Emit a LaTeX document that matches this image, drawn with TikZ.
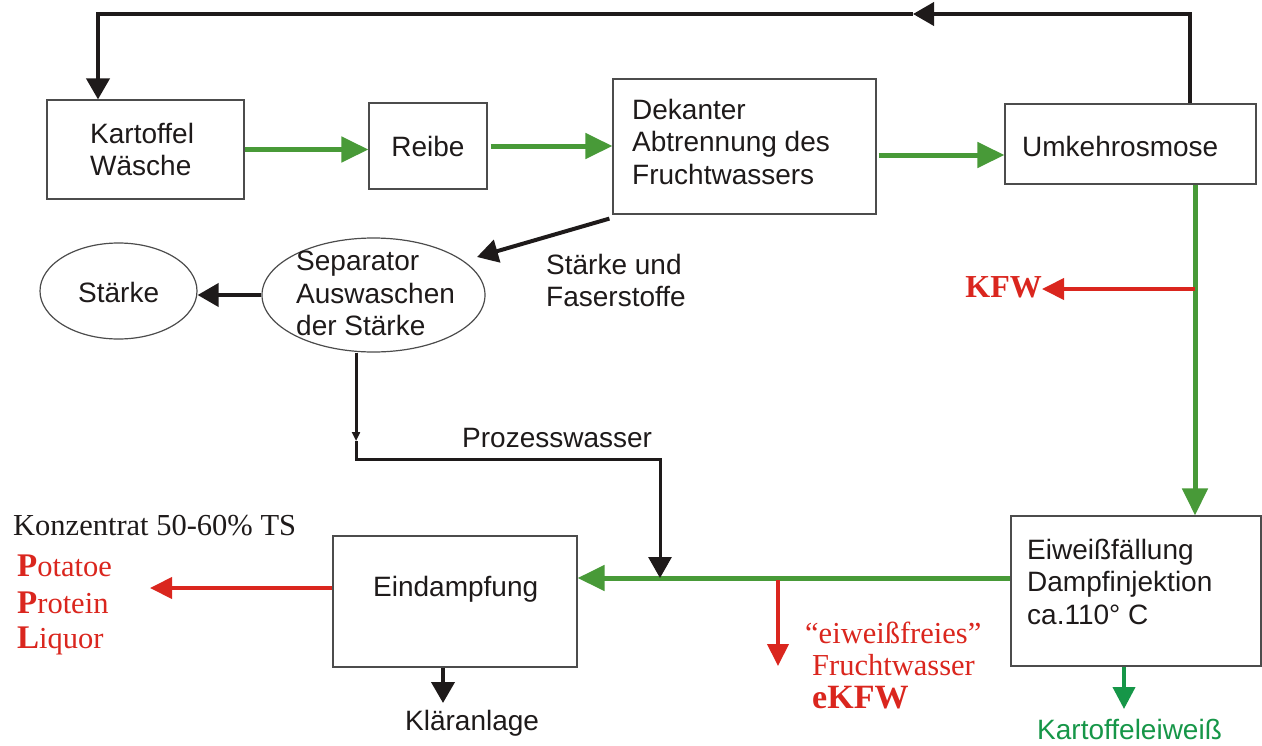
\documentclass[tikz,border=0pt]{standalone}
\usepackage{fontspec}
\setmainfont{Liberation Sans}
\newfontfamily\serif{Liberation Serif}
\usetikzlibrary{arrows.meta,calc,shapes.geometric}
\definecolor{gr}{RGB}{72,154,56}
\definecolor{gk}{RGB}{22,150,72}
\definecolor{rd}{RGB}{218,38,30}
\definecolor{bk}{RGB}{30,26,26}
\begin{document}
\begin{tikzpicture}[x=1pt,y=-1pt,
  box/.style={draw=black!70, line width=1.2pt, rectangle, inner sep=0pt},
  oval/.style={draw=black!70, line width=1.2pt, ellipse, inner sep=0pt},
  txt/.style={font=\fontsize{28}{32.5}\selectfont, align=left, inner sep=0pt, text=bk},
  rtxt/.style={font=\serif\fontsize{30.5}{33}\selectfont, inner sep=0pt, text=rd},
  garrow/.style={draw=gr, line width=5pt, -{Triangle[length=27pt,width=25pt]}},
  gkarrow/.style={draw=gk, line width=4pt, -{Triangle[length=22pt,width=22pt]}},
  rarrow/.style={draw=rd, line width=4pt, -{Triangle[length=22pt,width=21pt]}},
  barrow/.style={draw=bk, line width=4pt, -{Triangle[length=21pt,width=23pt]}},
  bline/.style={draw=bk, line width=4pt},
  pline/.style={draw=bk, line width=3pt},
  smalltip/.style={-{Triangle[length=9pt,width=8pt]}}
]
\useasboundingbox (0,0) rectangle (1262,745);

% boxes
\node[box, minimum width=197pt, minimum height=99pt] (kw) at (145.5,149.5) {};
\node[box, minimum width=118pt, minimum height=86pt, txt] (reibe) at (428,146) {Reibe};
\node[box, minimum width=263pt, minimum height=135pt] (dek) at (744.5,146.5) {};
\node[box, minimum width=251pt, minimum height=80pt] (umk) at (1130.5,144) {};
\node[box, minimum width=250pt, minimum height=150pt] (eiw) at (1136,591) {};
\node[box, minimum width=244pt, minimum height=131pt] (eind) at (455,601.5) {};
\node[oval, minimum width=157pt, minimum height=96pt] (st) at (118.5,291) {};
\node[oval, minimum width=223pt, minimum height=114pt] (sep) at (373.5,295) {};

% texts in boxes
\node[txt, anchor=north west] (kwt) at (90,123) {Kartoffel\\Wäsche};
\node[txt, anchor=north west] (dekt) at (632,99) {Dekanter\\Abtrennung des\\Fruchtwassers};
\node[txt, anchor=base west] (umkt) at (1022,156) {Umkehrosmose};
\node[txt, anchor=north west] (eiwt) at (1027,539) {Eiweißfällung\\Dampfinjektion\\ca.110° C};
\node[txt, anchor=base west] (eindt) at (373,596) {Eindampfung};
\node[txt, anchor=base west] (stt) at (78,302) {Stärke};
\node[txt, anchor=north west] (sept) at (296,251) {Separator\\Auswaschen\\der Stärke};

% free labels
\node[txt, anchor=north west] (suf) at (546,254) {Stärke und\\Faserstoffe};
\node[txt, anchor=base west] (proz) at (462,447) {Prozesswasser};
\node[txt, anchor=base west] (klar) at (405,730) {Kläranlage};
\node[txt, anchor=base west, text=gk] (keiw) at (1037,739) {Kartoffeleiweiß};
\node[rtxt, anchor=base east, font=\serif\bfseries\fontsize{32}{34}\selectfont] (kfw) at (1042,297) {KFW};
\node[rtxt, anchor=base west, text=bk] (konz) at (13,535) {Konzentrat 50-60\% TS};
\node[rtxt, anchor=base west] (ppl1) at (17,576) {{\bfseries\fontsize{33}{34}\selectfont P}otatoe};
\node[rtxt, anchor=base west] (ppl2) at (17,613) {{\bfseries\fontsize{33}{34}\selectfont P}rotein};
\node[rtxt, anchor=base west] (ppl3) at (17,648) {{\bfseries\fontsize{33}{34}\selectfont L}iquor};
\node[rtxt, anchor=base west] (ek1) at (805,643) {“eiweißfreies”};
\node[rtxt, anchor=base west] (ek2) at (812,675) {Fruchtwasser};
\node[rtxt, anchor=base west, font=\serif\bfseries\fontsize{34}{34}\selectfont] (ek3) at (812,708) {eKFW};

% helper coordinates
\coordinate (y155) at (0,155);
\coordinate (tr) at (1190,14);
\coordinate (tm) at (913,14);
\coordinate (tl) at (98,14);
\coordinate (gx) at (1195,0);
\coordinate (kfwj) at (1195,289);
\coordinate (gy) at (0,578);
\coordinate (sx) at (356,0);
\coordinate (pa) at (356,441);
\coordinate (pb) at (356,459);
\coordinate (pc) at (660,459);
\coordinate (pd) at (660,578);
\coordinate (ra) at (778,580);
\coordinate (rb) at (778,666);
\coordinate (pplend) at (150,588);
\coordinate (kx) at (443,703);
\coordinate (ex) at (1124,709);
\coordinate (sepin) at (477,257);

% green main flow
\draw[garrow] (kw.east) -- (kw.east -| reibe.west);
\draw[garrow] ($(reibe.east)+(3,0)$) -- (reibe.east -| dek.west);
\draw[garrow] ($(dek.east |- y155)+(2,0)$) -- (umk.west |- y155);
\draw[garrow] (umk.south -| gx) -- (eiw.north -| gx);
\draw[garrow] (eiw.west |- gy) -- (eind.east |- gy);

% top return loop
\draw[bline, -{Triangle[length=21pt,width=23pt]}] (umk.north -| tr) -- (tr) -- (tm);
\draw[barrow] (tm) -- (tl) -- (tl |- kw.north);

% starch path
\draw[barrow] ($(dek.south west)+(-3,4)$) -- (sepin);
\draw[barrow] (sep.west) -- (sep.west -| st.east);

% process water
\draw[pline, smalltip] (sep.south -| sx) -- (pa);
\draw[pline, -{Triangle[length=21pt,width=23pt]}] (pa) -- (pb) -- (pc) -- (pd);

% red branches
\draw[rarrow] (kfwj) -- (kfwj -| kfw.east);
\draw[rarrow] (ra) -- (rb);
\draw[rarrow] (eind.west |- pplend) -- (pplend);

% outputs
\draw[barrow] (eind.south -| kx) -- (kx);
\draw[gkarrow] (eiw.south -| ex) -- (ex);
\end{tikzpicture}
\end{document}
